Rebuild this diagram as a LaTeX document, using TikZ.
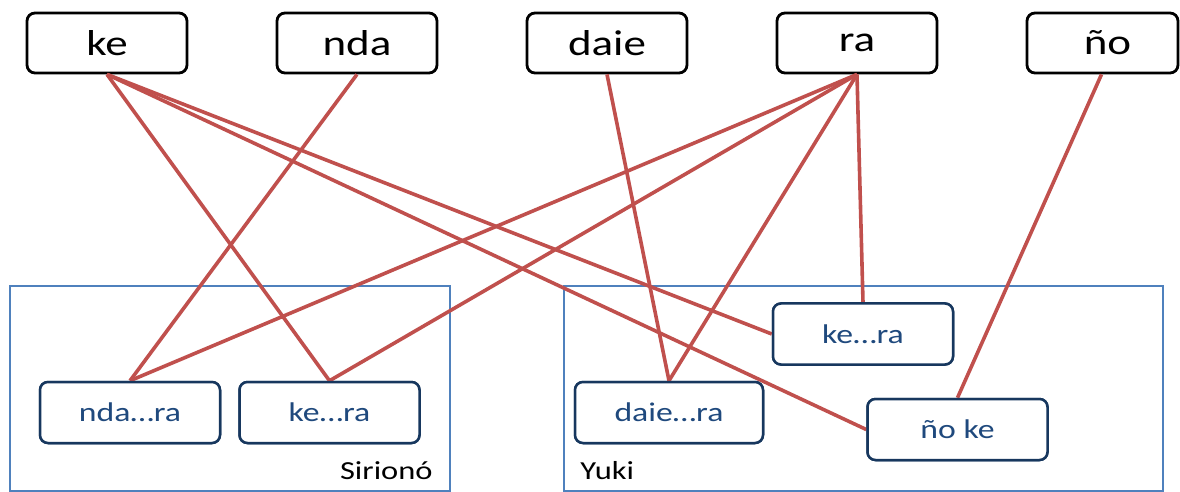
\documentclass[tikz,border=0pt]{standalone}
\usepackage{fontspec}
\setmainfont{Carlito}[FakeStretch=1.25]
\definecolor{linkred}{HTML}{C0504D}
\definecolor{groupblue}{HTML}{4F81BD}
\definecolor{formnavy}{HTML}{17375E}
\definecolor{formtext}{HTML}{1F497D}
\tikzset{
  morph/.style={draw=black, line width=1.4pt, rounded corners=4pt, fill=white,
    minimum width=80pt, minimum height=30pt, inner sep=0pt, font=\fontsize{18}{21}\selectfont},
  form/.style={draw=formnavy, line width=1.25pt, rounded corners=4pt, fill=white,
    minimum width=90pt, minimum height=30.5pt, inner sep=0pt, text=formtext,
    font=\fontsize{13.5}{16}\selectfont},
  group/.style={draw=groupblue, line width=1pt},
  grouplabel/.style={inner sep=0pt, font=\fontsize{13}{15}\selectfont},
  link/.style={draw=linkred, line width=1.8pt}
}
\begin{document}
\begin{tikzpicture}[x=0.5pt, y=-0.5pt]
\useasboundingbox (0,0) rectangle (1180,492);

% language groups
\draw[group] (10,286) rectangle (450,491);
\draw[group] (564,286) rectangle (1163,491);
\node[grouplabel, anchor=base east] (sirlabel) at (433,480) {Sirionó};
\node[grouplabel, anchor=base west] (yukilabel) at (580,480) {Yuki};

% source morphemes
\node[morph] (ke)   at (107,43) {ke};
\node[morph] (nda)  at (357,43) {nda};
\node[morph] (daie) at (607,43) {daie};
\node[morph] (ra)   at (857,43) {ra};
\node[morph, minimum width=75.5pt] (no) at (1102.5,43) {\hspace*{5pt}ño};

% attested forms
\node[form] (sndara) at (130,412.5) {nda…ra};
\node[form] (skera)  at (329.5,412.5) {ke…ra};
\node[form, minimum width=94pt] (ydaiera) at (669,412.5) {daie…ra};
\node[form] (ykera)  at (863,334) {ke…ra};
\node[form] (ynoke)  at (957.5,429.5) {ño ke};

% links
\draw[link] (ke.south) -- (skera.north);
\draw[link] (ke.south) -- (ykera.west);
\draw[link] (ke.south) -- (ynoke.west);
\draw[link] (nda.south) -- (sndara.north);
\draw[link] (daie.south) -- (ydaiera.north);
\draw[link] (ra.south) -- (sndara.north);
\draw[link] (ra.south) -- (skera.north);
\draw[link] (ra.south) -- (ydaiera.north);
\draw[link] (ra.south) -- (ykera.north);
\draw[link] ([xshift=-0.5pt]no.south) -- (ynoke.north);

% redraw boxes above the link ends
\node[form] at (sndara) {nda…ra};
\node[form] at (skera) {ke…ra};
\node[form, minimum width=94pt] at (ydaiera) {daie…ra};
\node[form] at (ykera) {ke…ra};
\node[form] at (ynoke) {ño ke};
\end{tikzpicture}
\end{document}
